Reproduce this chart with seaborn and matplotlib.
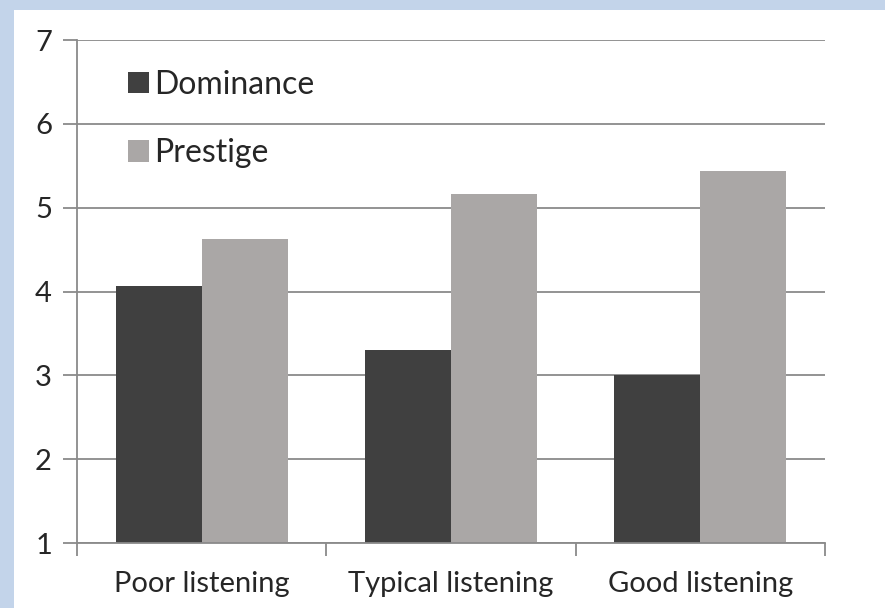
import pandas as pd
import matplotlib
matplotlib.use("Agg")
import matplotlib.pyplot as plt
import seaborn as sns
from matplotlib.patches import Rectangle

# Data
conditions = ["Poor listening", "Typical listening", "Good listening"]
dominance = [4.06, 3.30, 3.00]
prestige = [4.63, 5.16, 5.44]
series = ["Dominance", "Prestige"]
colors = ["#404040", "#aaa7a6"]

df = pd.DataFrame({
    "condition": conditions * 2,
    "measure": ["Dominance"] * 3 + ["Prestige"] * 3,
    "value": dominance + prestige,
})

sns.set_theme(style="white")
plt.rcParams["font.family"] = ["Lato", "DejaVu Sans"]

fig = plt.figure(figsize=(8.85, 6.08), dpi=100)
fig.patch.set_facecolor("#c3d4ea")

# white slide panel behind the chart
panel = Rectangle((14 / 885, 0), 1, 1 - 10 / 608, transform=fig.transFigure,
                  facecolor="white", edgecolor="none", zorder=-10)
fig.add_artist(panel)

ax = fig.add_axes([77 / 885, 65 / 608, 748 / 885, 503 / 608])
ax.set_facecolor("none")

sns.barplot(data=df, x="condition", y="value", hue="measure", hue_order=series,
            palette=colors, width=0.69, ax=ax, saturation=1, edgecolor="none")

ax.set_ylim(1, 7)
ax.set_xlim(-0.5, 2.5)
ax.set_yticks(range(1, 8))
ax.yaxis.grid(True, color="#8a8a8a", linewidth=1.3)
ax.set_axisbelow(True)
ax.set_xlabel("")
ax.set_ylabel("")

for side in ["top", "right"]:
    ax.spines[side].set_visible(False)
for side in ["left", "bottom"]:
    ax.spines[side].set_color("#8a8a8a")
    ax.spines[side].set_linewidth(1.3)

# x tick marks at category boundaries, labels at centres
ax.set_xticks([0, 1, 2])
ax.set_xticks([-0.5, 0.5, 1.5, 2.5], minor=True)
ax.tick_params(axis="x", which="major", length=0, labelsize=21, labelcolor="#262626", pad=20)
ax.tick_params(axis="x", which="minor", length=9, width=1.3, color="#8a8a8a", direction="out",
               bottom=True)
ax.tick_params(axis="y", length=10, width=1.3, color="#8a8a8a", labelsize=21,
               labelcolor="#262626", pad=8, left=True)

leg = ax.legend(loc="upper left", bbox_to_anchor=(0.03, 0.998), frameon=False,
                fontsize=23, handlelength=0.65, handleheight=0.65, handletextpad=0.15,
                labelspacing=1.2)
for t in leg.get_texts():
    t.set_color("#262626")

fig.savefig("out.png", dpi=100, facecolor=fig.get_facecolor())
